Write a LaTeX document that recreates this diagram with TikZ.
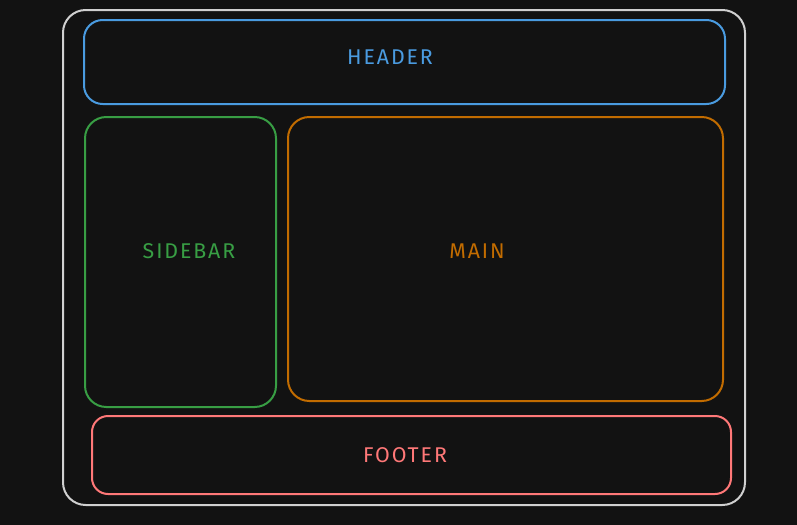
\documentclass[tikz,border=0pt]{standalone}
\usepackage{fontspec}
\setmainfont{Fira Sans}[LetterSpace=9]
\definecolor{bgdark}{RGB}{18,18,18}
\definecolor{framegray}{RGB}{208,208,208}
\definecolor{headblue}{RGB}{74,155,224}
\definecolor{sidegreen}{RGB}{56,158,68}
\definecolor{mainorange}{RGB}{194,108,0}
\definecolor{footpink}{RGB}{255,120,120}
\tikzset{
    region/.style={line width=1.5pt, rounded corners=#1},
    region/.default=16pt,
    tag/.style={font=\fontsize{16}{18}\selectfont, inner sep=0pt}
}
\begin{document}
\begin{tikzpicture}[x=0.75pt, y=-0.75pt]
        \fill[bgdark] (0,0) rectangle (797,525);
        \useasboundingbox (0,0) rectangle (797,525);
        % outer page
        \draw[region=17pt, framegray] (63,10) rectangle (745,505);
        % layout regions
        \draw[region=14pt, headblue] (84,20) rectangle (725,104);
        \draw[region=16pt, sidegreen] (85,117) rectangle (276,407);
        \draw[region=16pt, mainorange] (288,117) rectangle (723,401);
        \draw[region=12pt, footpink] (92,416) rectangle (731,494);
        % labels
        \node[tag, text=headblue] (header) at (390,57) {HEADER};
        \node[tag, text=sidegreen] (sidebar) at (189,251) {SIDEBAR};
        \node[tag, text=mainorange] (main) at (477,251) {MAIN};
        \node[tag, text=footpink] (footer) at (405,455) {FOOTER};
    \end{tikzpicture}
\end{document}
